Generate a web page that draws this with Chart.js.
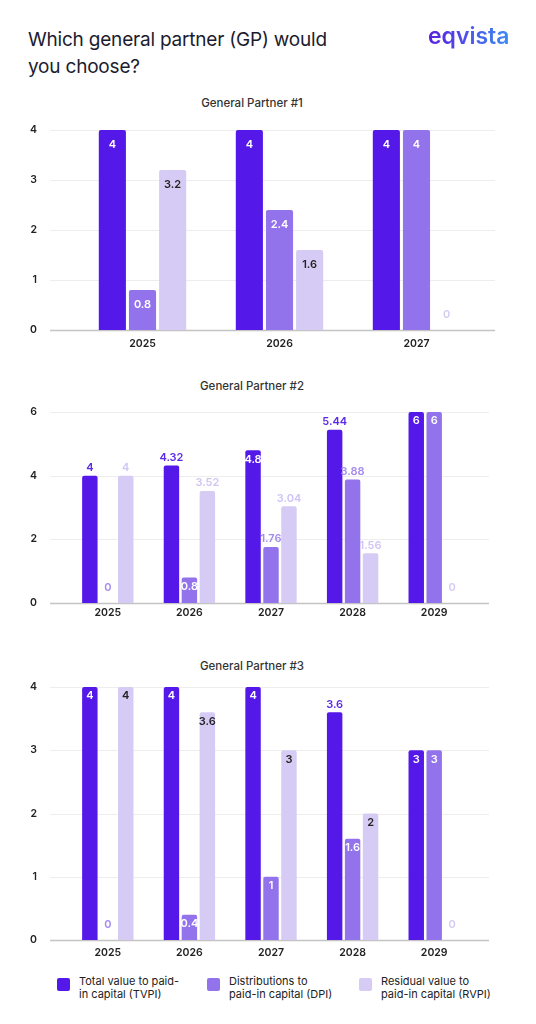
<!DOCTYPE html>
<html>
<head>
<meta charset="utf-8">
<script src="https://cdn.jsdelivr.net/npm/chart.js@4.4.0/dist/chart.umd.min.js"></script>
<style>
  body { margin: 0; background: #fff; width: 536px; height: 1024px; position: relative; overflow: hidden;
         font-family: Inter, "Noto Sans", sans-serif; }
  .abs { position: absolute; }
  #title { left: 28px; top: 26px; font-size: 19px; line-height: 27px; color: #1c1c2e; letter-spacing: -0.2px; }
  #logo { left: 428px; top: 22px; font-size: 23px; line-height: 28px; font-weight: 600;
          background: linear-gradient(90deg, #5a1fe0, #3d8cf2); -webkit-background-clip: text; background-clip: text; color: transparent; }
  .sub { font-size: 11.5px; font-weight: 500; color: #333; transform: translateX(-50%); white-space: nowrap; }
  canvas { position: absolute; left: 0; }
  .lg-box { width: 13px; height: 13px; border-radius: 2px; }
  .lg-text { font-size: 11px; line-height: 13px; color: #222; white-space: nowrap; }
</style>
</head>
<body>
<div id="title" class="abs">Which general partner (GP) would<br>you choose?</div>
<div id="logo" class="abs">eqvista</div>

<div class="abs sub" style="left:252px; top:96px;">General Partner #1</div>
<div class="abs sub" style="left:252px; top:379px;">General Partner #2</div>
<div class="abs sub" style="left:252px; top:659px;">General Partner #3</div>

<canvas id="gp1" width="536" height="240" style="top:120px"></canvas>
<canvas id="gp2" width="536" height="230" style="top:395px"></canvas>
<canvas id="gp3" width="536" height="290" style="top:675px"></canvas>

<div id="legend"></div>

<script>
// ---- data ----
var seriesLegend = [
  ['Total value to paid-', 'in capital (TVPI)'],
  ['Distributions to', 'paid-in capital (DPI)'],
  ['Residual value to', 'paid-in capital (RVPI)']
];

var gp1Years = ['2025', '2026', '2027'];
var gp1Tvpi = [4, 4, 4];
var gp1Dpi = [0.8, 2.4, 4];
var gp1Rvpi = [3.2, 1.6, 0];

var gp2Years = ['2025', '2026', '2027', '2028', '2029'];
var gp2Tvpi = [4, 4.32, 4.8, 5.44, 6];
var gp2Dpi = [0, 0.8, 1.76, 3.88, 6];
var gp2Rvpi = [4, 3.52, 3.04, 1.56, 0];

var gp3Years = ['2025', '2026', '2027', '2028', '2029'];
var gp3Tvpi = [4, 4, 4, 3.6, 3];
var gp3Dpi = [0, 0.4, 1, 1.6, 3];
var gp3Rvpi = [4, 3.6, 3, 2, 0];

// where each value label sits: inside the bar top or above it (zeros go above the baseline)
var gp1Place = [['in', 'in', 'in'], ['in', 'in', 'in'], ['in', 'in', 'in']];
var gp2Place = [['out', 'out', 'in', 'out', 'in'], ['in', 'in', 'out', 'out', 'in'], ['out', 'out', 'out', 'out', 'in']];
var gp3Place = [['in', 'in', 'in', 'out', 'in'], ['in', 'in', 'in', 'in', 'in'], ['in', 'in', 'in', 'in', 'in']];

// ---- styles ----
var barColors = ['#5419e9', '#9373eb', '#d6cbf4'];
var inColors = ['#ffffff', '#ffffff', '#222222'];
var outColors = ['#5b2ae8', '#a48bf0', '#d0c4f5'];
var zeroColors = ['#5b2ae8', '#a48bf0', '#d6cbf4'];

// horizontal grid lines drawn over a fixed x range, wider than the chart area
var gridPlugin = {
  id: 'wideGrid',
  beforeDatasetsDraw: function(chart, args, opts) {
    var ctx = chart.ctx, y = chart.scales.y;
    ctx.save();
    y.ticks.forEach(function(t) {
      var py = Math.round(y.getPixelForValue(t.value)) + 0.5;
      ctx.beginPath();
      ctx.strokeStyle = t.value === 0 ? '#c4c4c4' : '#ededed';
      ctx.lineWidth = t.value === 0 ? 1.5 : 1;
      ctx.moveTo(opts.x0, py);
      ctx.lineTo(opts.x1, py);
      ctx.stroke();
    });
    ctx.restore();
  }
};

var valuePlugin = {
  id: 'values',
  afterDatasetsDraw: function(chart, args, opts) {
    var ctx = chart.ctx;
    ctx.save();
    ctx.font = '600 11px Inter, "Noto Sans", sans-serif';
    ctx.textAlign = 'center';
    ctx.textBaseline = 'middle';
    chart.data.datasets.forEach(function(ds, i) {
      chart.getDatasetMeta(i).data.forEach(function(bar, j) {
        var v = ds.data[j];
        var where = opts.place[i][j];
        var py;
        if (v === 0) {
          ctx.fillStyle = zeroColors[i];
          py = bar.base - opts.zeroOff;
        } else if (where === 'out') {
          ctx.fillStyle = outColors[i];
          py = bar.y - opts.outOff;
        } else {
          ctx.fillStyle = inColors[i];
          py = bar.y + opts.inOff;
        }
        ctx.fillText(String(v), bar.x, py);
      });
    });
    ctx.restore();
  }
};

function makeChart(id, years, series, place, g) {
  var canvas = document.getElementById(id);
  var tickFont = { family: 'Inter, "Noto Sans", sans-serif', size: 10.5, weight: '600' };
  return new Chart(canvas, {
    type: 'bar',
    data: {
      labels: years,
      datasets: series.map(function(vals, i) {
        return {
          label: seriesLegend[i].join(' '),
          data: vals,
          backgroundColor: barColors[i],
          borderRadius: 2,
          barPercentage: g.barPct,
          categoryPercentage: g.catPct
        };
      })
    },
    options: {
      responsive: false,
      animation: false,
      layout: { padding: { top: g.top, right: canvas.width - g.right, bottom: 0, left: 0 } },
      plugins: {
        legend: { display: false },
        tooltip: { enabled: false },
        wideGrid: { x0: g.gx0, x1: g.gx1 },
        values: { place: place, inOff: g.inOff, outOff: 8, zeroOff: 15 }
      },
      scales: {
        x: {
          grid: { display: false, drawTicks: false },
          border: { display: false },
          ticks: { color: '#222', font: tickFont, padding: g.xPad },
          afterFit: function(axis) {
            axis.height = canvas.height - g.bottom;
            axis.paddingLeft = 0;
            axis.paddingRight = 0;
          }
        },
        y: {
          min: 0, max: g.max,
          grid: { display: false, drawTicks: false },
          border: { display: false },
          ticks: { stepSize: g.step, color: '#222', font: tickFont, padding: g.left - 37 },
          afterFit: function(axis) {
            axis.width = g.left;
            axis.paddingTop = 0;
            axis.paddingBottom = 0;
          }
        }
      }
    },
    plugins: [gridPlugin, valuePlugin]
  });
}

// plot geometry is given in canvas coordinates
makeChart('gp1', gp1Years, [gp1Tvpi, gp1Dpi, gp1Rvpi], gp1Place,
  { top: 10, bottom: 210, left: 74, right: 485, gx0: 50, gx1: 495, max: 4, step: 1,
    barPct: 0.9, catPct: 0.66, inOff: 15, xPad: 8 });
makeChart('gp2', gp2Years, [gp2Tvpi, gp2Dpi, gp2Rvpi], gp2Place,
  { top: 17, bottom: 208, left: 67, right: 475, gx0: 50, gx1: 489, max: 6, step: 2,
    barPct: 0.86, catPct: 0.66, inOff: 9, xPad: 4 });
makeChart('gp3', gp3Years, [gp3Tvpi, gp3Dpi, gp3Rvpi], gp3Place,
  { top: 12, bottom: 265, left: 67, right: 475, gx0: 50, gx1: 489, max: 4, step: 1,
    barPct: 0.86, catPct: 0.66, inOff: 9, xPad: 7 });

// legend
var legendLefts = [57, 207, 359];
var legend = document.getElementById('legend');
seriesLegend.forEach(function(lines, i) {
  var box = document.createElement('div');
  box.className = 'abs lg-box';
  box.style.left = legendLefts[i] + 'px';
  box.style.top = '978px';
  box.style.background = barColors[i];
  legend.appendChild(box);
  var txt = document.createElement('div');
  txt.className = 'abs lg-text';
  txt.style.left = (legendLefts[i] + 22) + 'px';
  txt.style.top = '975px';
  txt.innerHTML = lines.join('<br>');
  legend.appendChild(txt);
});
</script>
</body>
</html>
